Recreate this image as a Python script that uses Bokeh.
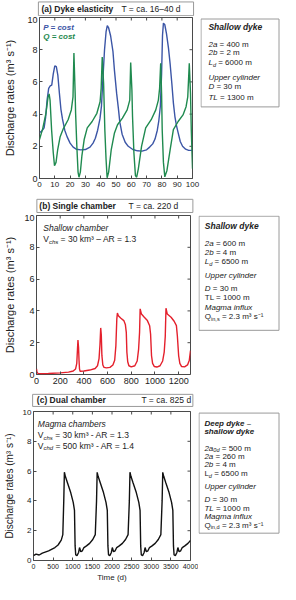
import math
from bokeh.plotting import figure
from bokeh.models import Range1d, Label, BoxAnnotation, FixedTicker
from bokeh.layouts import column, row
from bokeh.embed import file_html
from bokeh.resources import INLINE

FONT = "Liberation Sans"

# ---------------- data ----------------
a_p_time = [0, 1.5, 3, 4, 5, 6, 7, 8, 9, 10,
            11, 12, 13, 14, 15, 16.5, 18, 20, 22, 24,
            27, 30, 33, 35, 36.5, 38, 39.5, 40.5, 41.5, 42.5,
            43.5, 44.3, 45.2, 46.5, 48, 49, 50.4, 51.5, 52.5, 54,
            56, 58, 61, 64, 67, 70, 72, 74, 75.5, 77,
            78, 79, 79.8, 80.4, 81, 81.9, 83, 84.3, 85.4, 86.5,
            87.5, 88.5, 89.5, 90.6, 92, 93.5, 95.5, 97.5, 100]
a_p_rate = [2.85, 2.95, 3.15, 3.8, 4.9, 5.6, 5.75, 5.8, 6.5, 7.0,
            6.95, 6.4, 5.3, 4.3, 3.7, 3.0, 2.6, 2.2, 1.95, 1.82,
            1.78, 1.8, 1.95, 2.2, 2.5, 3.0, 3.7, 4.5, 6.3, 8.0,
            9.1, 9.5, 9.35, 8.85, 7.9, 6.7, 5.3, 4.4, 3.5, 2.75,
            2.25, 2.0, 1.8, 1.72, 1.7, 1.78, 1.95, 2.15, 2.45, 3.0,
            3.6, 4.5, 6.5, 8.9, 9.65, 9.55, 9.0, 8.1, 7.1, 5.9,
            4.7, 3.85, 3.3, 2.85, 2.3, 2.0, 1.82, 1.75, 1.75]
a_q_time = [0, 2.1, 4.2, 5.6, 6.3, 6.9, 7.9, 9, 9.8, 10.8,
            11.9, 13.5, 15.6, 18.7, 20.8, 21.9, 22.5, 23.3, 23.6, 24.4,
            25.2, 25.8, 26.7, 27.7, 29.2, 31.2, 34.4, 37.5, 39.6, 40.3,
            41, 41.9, 42.3, 42.7, 43.5, 44.2, 45.2, 46.9, 49, 51,
            54.2, 57.3, 59, 59.6, 60.4, 60.8, 61.7, 62.7, 63.5, 64.6,
            66.7, 69.4, 73, 76, 77.7, 78.5, 79.2, 79.8, 80.2, 81,
            81.9, 83.3, 85.4, 87.5, 90.6, 93.8, 95.8, 96.9, 97.9, 98.7,
            99.2, 100]
a_q_rate = [2.42, 3.1, 4.05, 5.07, 5.25, 4.87, 3.03, 1.6, 0.8, 1.0,
            1.8, 2.6, 3.1, 3.65, 4.26, 5.07, 7.8, 5.3, 4.05, 2.0,
            0.4, 0.08, 0.4, 1.4, 2.42, 3.14, 3.54, 4.05, 4.77, 5.6,
            7.55, 5.9, 4.46, 3.03, 1.2, 0.05, 0.4, 1.8, 2.83, 3.34,
            3.75, 4.26, 4.87, 7.2, 5.48, 3.85, 1.6, 0.18, 0.08, 0.6,
            2.0, 3.14, 3.65, 4.26, 4.87, 5.6, 7.15, 5.27, 3.03, 1.0,
            0.1, 0.5, 1.8, 3.03, 3.54, 3.95, 4.46, 5.07, 7.15, 5.27,
            3.03, 0.6]
b_time = [0, 4, 12, 40, 100, 200, 270, 310, 330, 340,
          346, 350, 355, 359, 363, 368, 400, 450, 495, 515,
          528, 536, 542, 547, 552, 560, 570, 590, 620, 645,
          660, 670, 678, 683, 691, 710, 737, 750, 758, 763,
          770, 780, 800, 830, 850, 862, 870, 875, 886, 910,
          936, 955, 963, 971, 980, 995, 1016, 1043, 1065, 1078,
          1087, 1093, 1104, 1136, 1162, 1181, 1189, 1200, 1210, 1225,
          1250, 1275, 1290, 1300]
b_rate = [0.35, 0.15, 0.07, 0.05, 0.06, 0.1, 0.15, 0.22, 0.35, 0.7,
          1.6, 2.17, 1.7, 0.9, 0.35, 0.2, 0.22, 0.28, 0.38, 0.55,
          1.0, 1.9, 2.93, 2.5, 1.2, 0.6, 0.45, 0.42, 0.45, 0.6,
          0.9, 1.8, 3.5, 3.87, 3.7, 3.55, 3.39, 3.15, 2.65, 1.4,
          0.8, 0.55, 0.48, 0.55, 0.85, 1.6, 2.65, 4.13, 3.8, 3.6,
          3.39, 3.07, 2.55, 1.18, 0.7, 0.5, 0.47, 0.55, 0.85, 1.4,
          2.4, 4.17, 3.8, 3.6, 3.35, 3.07, 2.44, 1.18, 0.7, 0.5,
          0.48, 0.6, 0.9, 1.5]
c_time = [0, 64, 145, 225, 385, 546, 626, 707, 747, 771,
          787, 811, 867, 948, 1012, 1044, 1060, 1076, 1108, 1149,
          1173, 1205, 1245, 1285, 1350, 1430, 1510, 1574, 1606, 1622,
          1646, 1703, 1783, 1847, 1880, 1896, 1912, 1944, 1984, 2008,
          2040, 2080, 2120, 2185, 2265, 2345, 2410, 2442, 2458, 2482,
          2538, 2619, 2683, 2715, 2731, 2747, 2779, 2819, 2843, 2875,
          2915, 2955, 3020, 3100, 3180, 3245, 3277, 3293, 3317, 3373,
          3454, 3518, 3550, 3566, 3582, 3614, 3654, 3678, 3710, 3750,
          3790, 3855, 3935, 4000]
c_rate = [0.33, 0.43, 0.37, 0.5, 0.65, 0.87, 1.04, 1.37, 1.74, 4.0,
          5.93, 5.65, 5.2, 4.56, 3.9, 3.37, 0.98, 0.37, 0.33, 0.54,
          0.87, 0.59, 0.65, 0.87, 0.98, 1.15, 1.41, 1.74, 4.0, 5.92,
          5.65, 5.2, 4.56, 3.9, 3.37, 0.98, 0.37, 0.33, 0.54, 0.87,
          0.59, 0.65, 0.87, 0.98, 1.15, 1.41, 1.74, 4.0, 5.93, 5.65,
          5.2, 4.56, 3.9, 3.37, 0.98, 0.37, 0.33, 0.54, 0.87, 0.59,
          0.65, 0.87, 0.98, 1.15, 1.41, 1.74, 4.0, 5.92, 5.65, 5.2,
          4.56, 3.9, 3.37, 0.98, 0.37, 0.33, 0.54, 0.87, 0.59, 0.65,
          0.87, 0.98, 1.15, 1.35]
a_x_ticks = [0, 10, 20, 30, 40, 50, 60, 70, 80, 90, 100]
b_x_ticks = [0, 200, 400, 600, 800, 1000, 1200]
c_x_ticks = [0, 500, 1000, 1500, 2000, 2500, 3000, 3500, 4000]
y_ticks = [0, 2, 4, 6, 8, 10]
y_label = "Discharge rates (m³ s⁻¹)"

BLUE = "#3b55a6"
GREEN = "#1f8a4f"
RED = "#e4202c"
BLACK = "#111111"
TXT = "#222222"
AXC = "#4a4a4a"
BOXC = "#9a9a9a"

CW = {' ': 278, '(': 333, ')': 333, ',': 278, '-': 333, '.': 278, '=': 584, '–': 556,
      '³': 333, '¹': 333, '⁻': 500, 'A': 667, 'D': 722, 'L': 556, 'M': 833, 'P': 667,
      'Q': 778, 'R': 722, 'S': 667, 'T': 611, 'U': 722, 'V': 667, 'a': 556, 'b': 556,
      'c': 500, 'd': 556, 'e': 556, 'f': 278, 'g': 556, 'h': 556, 'i': 222, 'k': 500,
      'l': 222, 'm': 833, 'n': 556, 'o': 556, 'p': 556, 'r': 333, 's': 500, 't': 278,
      'u': 556, 'w': 722, 'x': 500, 'y': 500}


def tw(s, size, bold):
    return sum(CW.get(ch, 556) for ch in s) * size / 1000.0 * (1.06 if bold else 1.0)


# reference pixel -> page pixel
def PX(rx):
    return 4.1 + 0.9655 * rx


def PY(ry):
    return 6 + 0.983 * ry


class Canvas:
    """Base: maps page pixels to data coordinates and places texts/boxes."""
    shift = 0.0

    def box(self, rx0, ry0, rx1, ry1, color):
        self.p.add_layout(BoxAnnotation(
            left=self.dx(PX(rx0) + self.shift), right=self.dx(PX(rx1)),
            top=self.dy(PY(ry0)), bottom=self.dy(PY(ry1)),
            fill_color="white", fill_alpha=1.0, line_color=color,
            line_alpha=1.0, line_width=1))

    def text(self, rx, ry, segs, color=TXT):
        x = PX(rx) + self.shift
        y = PY(ry)
        for seg in segs:
            t, style, size = seg[0], seg[1], seg[2]
            sub = len(seg) > 3 and seg[3]
            bold = "bold" in style
            lead = len(t) - len(t.lstrip(" "))
            x += tw(" " * lead, size, bold)
            core = t.strip(" ")
            trail = len(t.lstrip(" ")) - len(core)
            yy = y + (2.6 if sub else 0.0)
            self.p.add_layout(Label(
                x=self.dx(x), y=self.dy(yy), text=core, text_font=FONT,
                text_font_style=style, text_font_size=f"{size}px",
                text_color=color, text_baseline="middle", text_align="left"))
            x += tw(core, size, bold) + tw(" " * trail, size, bold)


class Sheet(Canvas):
    """Plain figure whose data coordinates are page pixels."""

    def __init__(self, page_left, page_top, width, height, shift=0.0):
        self.shift = shift
        p = figure(width=width, height=height,
                   x_range=Range1d(page_left, page_left + width),
                   y_range=Range1d(page_top + height, page_top),
                   min_border=0, output_backend="svg", toolbar_location=None, tools="")
        p.axis.visible = False
        p.xgrid.grid_line_color = None
        p.ygrid.grid_line_color = None
        p.outline_line_color = None
        p.background_fill_color = "white"
        p.border_fill_color = "white"
        self.p = p

    def dx(self, px):
        return px

    def dy(self, py):
        return py


RB = 8  # right border of each plot, room for the last x tick label


class Panel(Canvas):
    def __init__(self, x_end, x_ticks, left, fw, top, fh, bottom, page_top,
                 tick_size, xtick_size, ylab_size, ylab_standoff, xlabel=None):
        self.x_end, self.fw, self.fh = x_end, fw, fh
        self.frame_left = 8 + left
        self.frame_bottom = page_top + top + fh
        p = figure(frame_width=fw, frame_height=fh, min_border_left=left,
                   min_border_right=RB, min_border_top=top,
                   min_border_bottom=bottom, x_range=Range1d(0, x_end),
                   y_range=Range1d(0, 10), output_backend="svg",
                   toolbar_location=None, tools="")
        p.xgrid.grid_line_color = None
        p.ygrid.grid_line_color = None
        p.outline_line_color = AXC
        p.outline_line_width = 1
        p.background_fill_color = "white"
        p.border_fill_color = "white"
        xa = p.below[0]
        ya = p.left[0]
        xa.ticker = FixedTicker(ticks=x_ticks)
        ya.ticker = FixedTicker(ticks=y_ticks)
        for ax in (xa, ya):
            ax.axis_line_color = None
            ax.major_tick_in = 3
            ax.major_tick_out = 0
            ax.minor_tick_line_color = None
            ax.major_tick_line_color = AXC
            ax.major_label_text_font = FONT
            ax.major_label_text_color = TXT
        xa.major_label_text_font_size = f"{xtick_size}px"
        ya.major_label_text_font_size = f"{tick_size}px"
        xa.major_label_standoff = 3
        ya.major_label_standoff = 2
        ya.axis_label = y_label
        ya.axis_label_text_font = FONT
        ya.axis_label_text_font_style = "normal"
        ya.axis_label_text_font_size = f"{ylab_size}px"
        ya.axis_label_text_color = TXT
        ya.axis_label_standoff = ylab_standoff
        if xlabel:
            xa.axis_label = xlabel
            xa.axis_label_text_font = FONT
            xa.axis_label_text_font_style = "normal"
            xa.axis_label_text_font_size = "8px"
            xa.axis_label_text_color = TXT
            xa.axis_label_standoff = 1
        # inward ticks on top and right edges (half of each dash is clipped by the frame)
        p.scatter(x=x_ticks, y=[10] * len(x_ticks), marker="dash", angle=math.pi / 2,
                  size=6, line_color=AXC, line_width=1)
        p.scatter(x=[x_end] * len(y_ticks), y=y_ticks, marker="dash",
                  size=6, line_color=AXC, line_width=1)
        self.p = p
        self.width = left + fw + RB

    def dx(self, px):
        return self.x_end * (px - self.frame_left) / self.fw

    def dy(self, py):
        return 10.0 * (self.frame_bottom - py) / self.fh


N, I, B, BI = "normal", "italic", "bold", "bold italic"
S = 8.0
SS = 5.6

# ---------------- panel (a) ----------------
ta = Sheet(8, 8, 280, 16)
ta.box(43.3, 3.5, 204, 17.5, BOXC)
ta.text(46.5, 10.7, [("(a) Dyke elasticity", B, 8.5)])
ta.text(129.3, 10.7, [("T = ca. 16–40 d", N, 8.5)])

pa = Panel(100, a_x_ticks, 39, 153, 1, 161, 15, 24, 9, 8, 11, 8)
pa.p.line(a_p_time, a_p_rate, line_color=BLUE, line_width=1.4)
pa.p.line(a_q_time, a_q_rate, line_color=GREEN, line_width=1.4)
pa.text(48.3, 30, [("P = cost", BI, 8)], BLUE)
pa.text(48.3, 39, [("Q = cost", BI, 8)], GREEN)

ia = Sheet(8 + pa.width, 24, 280 - pa.width, 177, shift=8 + pa.width + 0.5 - PX(207.3))
ia.box(207.3, 20, 292.5, 118.3, BOXC)
ia.text(215, 29, [("Shallow dyke", BI, 8.5)])
ia.text(215, 48, [("2a", I, S), (" = 400 m", N, S)])
ia.text(215, 58, [("2b", I, S), (" = 2 m", N, S)])
ia.text(215, 68.5, [("L", I, S), ("d", I, SS, True), (" = 6000 m", N, S)])
ia.text(215, 85, [("Upper cylinder", I, S)])
ia.text(215, 96, [("D", I, S), (" = 30 m", N, S)])
ia.text(215, 107.5, [("TL", I, S), (" = 1300 m", N, S)])

# ---------------- panel (b) ----------------
tb = Sheet(8, 201, 280, 21)
tb.box(41.7, 204.3, 203.3, 217.7, BOXC)
tb.text(44.3, 210.7, [("(b) Single chamber", B, 8.5)])
tb.text(136.7, 210.7, [("T = ca. 220 d", N, 8.5)])

pb = Panel(1300, b_x_ticks, 36, 154, 1, 159, 15, 222, 9, 9, 11, 5)
pb.p.line(b_time, b_rate, line_color=RED, line_width=1.4)
pb.text(48.3, 233.3, [("Shallow chamber", I, 8.5)])
pb.text(48.3, 245, [("V", N, 8.5), ("chs", I, 6, True), (" = 30 km³ – AR = 1.3", N, 8.5)])

ib = Sheet(8 + pb.width, 222, 280 - pb.width, 175, shift=8 + pb.width + 0.5 - PX(206.7))
ib.box(206.7, 220.5, 292.5, 348.3, BOXC)
ib.text(212.7, 232, [("Shallow dyke", BI, 8.5)])
ib.text(212.7, 251, [("2a", I, S), (" = 600 m", N, S)])
ib.text(212.7, 261, [("2b", I, S), (" = 4 m", N, S)])
ib.text(212.7, 271.5, [("L", I, S), ("d", I, SS, True), (" = 6500 m", N, S)])
ib.text(212.7, 287, [("Upper cylinder", I, S)])
ib.text(212.7, 301, [("D", I, S), (" = 30 m", N, S)])
ib.text(212.7, 311.5, [("TL = 1000 m", N, S)])
ib.text(212.7, 322.5, [("Magma influx", I, S)])
ib.text(212.7, 333, [("Q", N, S), ("in,s", N, SS, True), (" = 2.3 m³ s⁻¹", N, S)])

# ---------------- panel (c) ----------------
tc = Sheet(8, 397, 280, 20)
tc.box(37.3, 402.7, 203.3, 415, BOXC)
tc.text(41.7, 408.5, [("(c) Dual chamber", B, 8.5)])
tc.text(150, 408.5, [("T = ca. 825 d", N, 8.5)])

pc = Panel(4000, c_x_ticks, 33, 157, 2, 149, 24, 417, 8, 7, 10, 5, xlabel="Time (d)")
pc.p.line(c_time, c_rate, line_color=BLACK, line_width=1.4)
pc.text(42.7, 433.3, [("Magma chambers", I, 8.5)])
pc.text(42.7, 444, [("V", N, 8.5), ("chs", I, 6, True), (" = 30 km³  - AR = 1.3", N, 8.5)])
pc.text(42.7, 455, [("V", N, 8.5), ("chd", I, 6, True), (" = 500 km³ - AR = 1.4", N, 8.5)])

ic = Sheet(8 + pc.width, 417, 280 - pc.width, 175, shift=8 + pc.width + 0.5 - PX(206.7))
ic.box(206.7, 420, 292.5, 563.5, BOXC)
ic.text(212.3, 432.5, [("Deep dyke –", BI, 8)])
ic.text(212.3, 442.5, [("shallow dyke", BI, 8)])
ic.text(212.3, 462, [("2a", I, S), ("0d", I, SS, True), (" = 500 m", N, S)])
ic.text(212.3, 471.5, [("2a", I, S), (" = 260 m", N, S)])
ic.text(212.3, 482, [("2b", I, S), (" = 4 m", N, S)])
ic.text(212.3, 492.5, [("L", N, S), ("d", I, SS, True), (" = 6500 m", N, S)])
ic.text(212.3, 508, [("Upper cylinder", I, S)])
ic.text(212.3, 523, [("D", I, S), (" = 30 m", N, S)])
ic.text(212.3, 533.5, [("TL", I, S), (" = 1000 m", N, S)])
ic.text(212.3, 543.5, [("Magma influx", I, S)])
ic.text(212.3, 554, [("Q", N, S), ("in,d", N, SS, True), (" = 2.3 m³ s⁻¹", N, S)])

layout = column(
    ta.p, row(pa.p, ia.p, spacing=0),
    tb.p, row(pb.p, ib.p, spacing=0),
    tc.p, row(pc.p, ic.p, spacing=0),
    spacing=0)
open("out.html", "w").write(file_html(layout, INLINE))
